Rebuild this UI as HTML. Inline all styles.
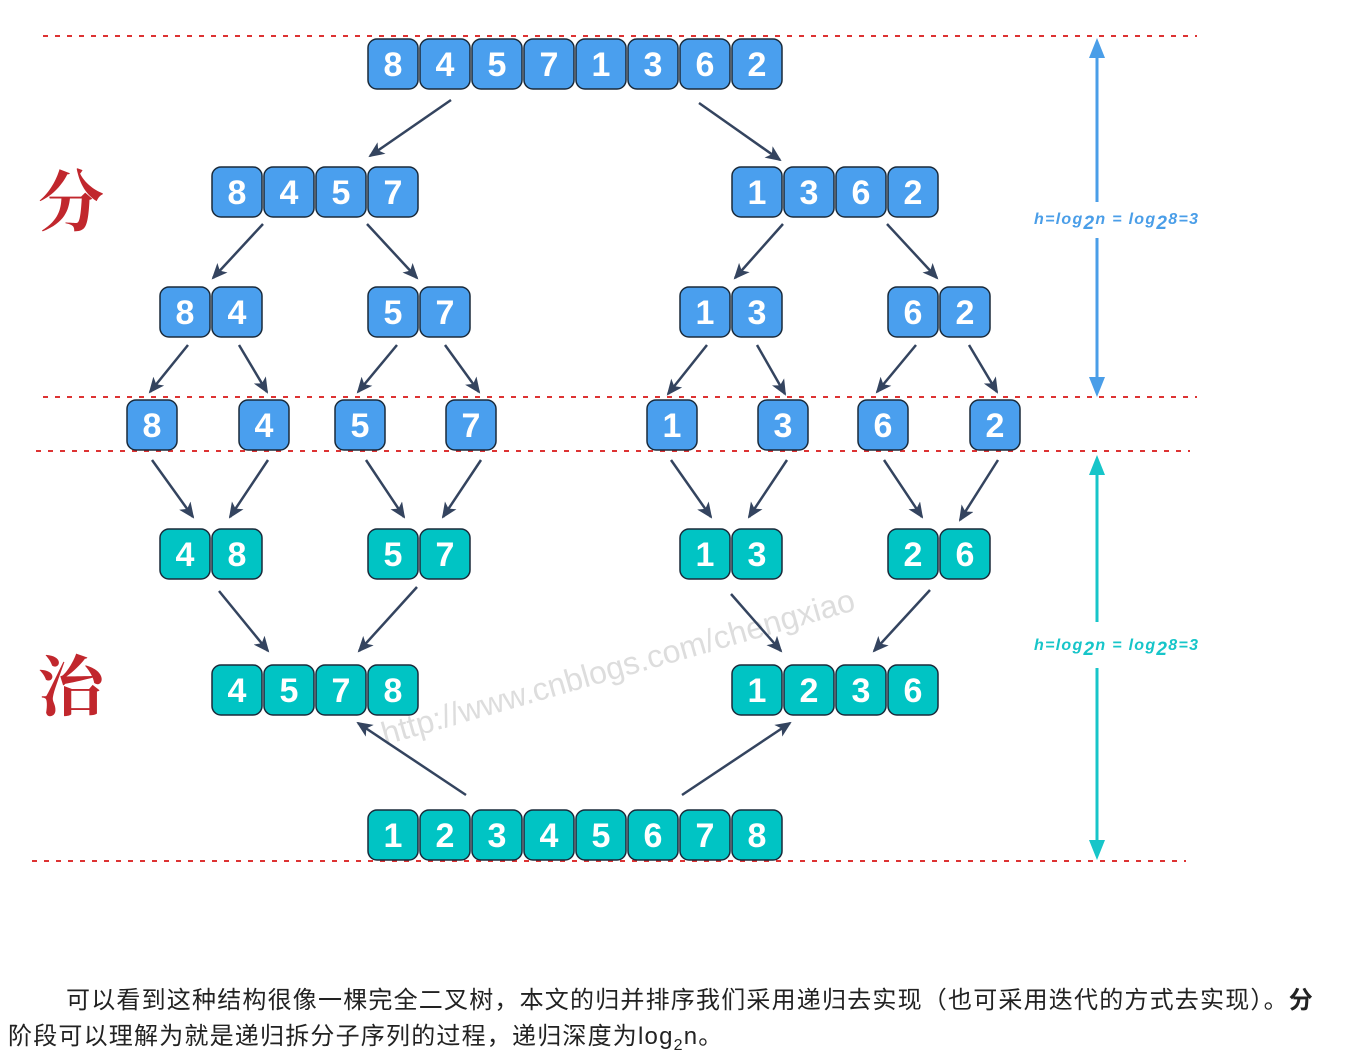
<!DOCTYPE html><html><head><meta charset="utf-8"><style>
body{margin:0;width:1366px;height:1058px;background:#fff;overflow:hidden;position:relative;font-family:"Liberation Sans","Noto Sans CJK SC",sans-serif}
.t{position:absolute;font-size:24px;letter-spacing:1.2px;color:#222;white-space:nowrap}
</style></head><body>
<svg width="1366" height="960" style="position:absolute;left:0;top:0" font-family="Liberation Sans, sans-serif">
<defs><marker id="a" markerWidth="16" markerHeight="14" refX="14" refY="7" orient="auto" markerUnits="userSpaceOnUse"><path d="M0,0 L16,7 L0,14 L4,7z" fill="#34445f"/></marker></defs>
<g stroke="#d33" stroke-width="2" stroke-dasharray="5,7">
<line x1="43" y1="36" x2="1197" y2="36"/><line x1="43" y1="397" x2="1197" y2="397"/><line x1="36" y1="451" x2="1190" y2="451"/><line x1="32" y1="861" x2="1186" y2="861"/></g>
<text x="385" y="745" transform="rotate(-16 385 745)" font-size="32" fill="#ddd">http://www.cnblogs.com/chengxiao</text>
<g id="cells"></g>
<g stroke="#34445f" stroke-width="2.5" marker-end="url(#a)">
<line x1="451" y1="100" x2="370" y2="156"/><line x1="699" y1="103" x2="780" y2="160"/>
<line x1="263" y1="224" x2="213" y2="278"/><line x1="367" y1="224" x2="417" y2="278"/><line x1="783" y1="224" x2="735" y2="278"/><line x1="887" y1="224" x2="937" y2="278"/>
<line x1="188" y1="345" x2="150" y2="392"/><line x1="239" y1="345" x2="267" y2="392"/><line x1="397" y1="345" x2="358" y2="392"/><line x1="445" y1="345" x2="479" y2="392"/><line x1="707" y1="345" x2="668" y2="394"/><line x1="757" y1="345" x2="785" y2="394"/><line x1="916" y1="345" x2="877" y2="392"/><line x1="969" y1="345" x2="997" y2="392"/>
<line x1="152" y1="460" x2="193" y2="517"/><line x1="268" y1="460" x2="230" y2="517"/><line x1="366" y1="460" x2="404" y2="517"/><line x1="481" y1="460" x2="443" y2="517"/><line x1="671" y1="460" x2="711" y2="517"/><line x1="787" y1="460" x2="749" y2="517"/><line x1="884" y1="460" x2="922" y2="517"/><line x1="998" y1="460" x2="960" y2="520"/>
<line x1="219" y1="591" x2="268" y2="651"/><line x1="417" y1="587" x2="359" y2="651"/><line x1="731" y1="594" x2="781" y2="651"/><line x1="930" y1="590" x2="874" y2="651"/>
<line x1="466" y1="795" x2="358" y2="723"/><line x1="682" y1="795" x2="790" y2="723"/></g>
<g stroke="#4a9ee8" stroke-width="3"><line x1="1097" y1="50" x2="1097" y2="202"/><line x1="1097" y1="238" x2="1097" y2="385"/></g>
<path d="M1089,58 L1097,38 L1105,58z M1089,377 L1097,397 L1105,377z" fill="#4a9ee8"/>
<g stroke="#17c5c9" stroke-width="3"><line x1="1097" y1="465" x2="1097" y2="622"/><line x1="1097" y1="668" x2="1097" y2="848"/></g>
<path d="M1089,475 L1097,455 L1105,475z M1089,840 L1097,860 L1105,840z" fill="#17c5c9"/>
<text x="1034" y="224" font-size="16" font-weight="bold" font-style="italic" fill="#4a9ee8" textLength="164">h=log<tspan font-size="19" dy="5">2</tspan><tspan dy="-5">n = log</tspan><tspan font-size="19" dy="5">2</tspan><tspan dy="-5">8=3</tspan></text>
<text x="1034" y="650" font-size="16" font-weight="bold" font-style="italic" fill="#17c5c9" textLength="164">h=log<tspan font-size="19" dy="5">2</tspan><tspan dy="-5">n = log</tspan><tspan font-size="19" dy="5">2</tspan><tspan dy="-5">8=3</tspan></text>
<text x="38" y="225" font-size="66" font-weight="bold" fill="#c1272d" font-family="Noto Serif CJK SC, serif">分</text>
<text x="38" y="710" font-size="66" font-weight="bold" fill="#c1272d" font-family="Noto Serif CJK SC, serif">治</text>
</svg>
<div class="t" style="left:66px;top:980px">可以看到这种结构很像一棵完全二叉树，本文的归并排序我们采用递归去实现（也可采用迭代的方式去实现）。<b>分</b></div>
<div class="t" style="left:8px;top:1016px">阶段可以理解为就是递归拆分子序列的过程，递归深度为log<sub style="font-size:16px">2</sub>n。</div>
<script>
var B="#4a9fee",T="#00c4c4",s="";
function row(x,y,d,c){for(var i=0;i<d.length;i++){var cx=x+i*52;s+='<rect x="'+(cx+1)+'" y="'+(y+1)+'" width="50" height="50" rx="9" fill="'+c+'" stroke="#1a2a3a" stroke-width="1.5"/><text x="'+(cx+26)+'" y="'+(y+38)+'" text-anchor="middle" font-size="34" font-weight="bold" fill="#fff">'+d[i]+'</text>';}}
row(367,38,"84571362",B);row(211,166,"8457",B);row(731,166,"1362",B);
row(159,286,"84",B);row(367,286,"57",B);row(679,286,"13",B);row(887,286,"62",B);
[[126,"8"],[238,"4"],[334,"5"],[445,"7"],[646,"1"],[757,"3"],[857,"6"],[969,"2"]].forEach(function(p){row(p[0],399,p[1],B)});
row(159,528,"48",T);row(367,528,"57",T);row(679,528,"13",T);row(887,528,"26",T);
row(211,664,"4578",T);row(731,664,"1236",T);row(367,809,"12345678",T);
document.getElementById("cells").innerHTML=s;
</script>
</body></html>
